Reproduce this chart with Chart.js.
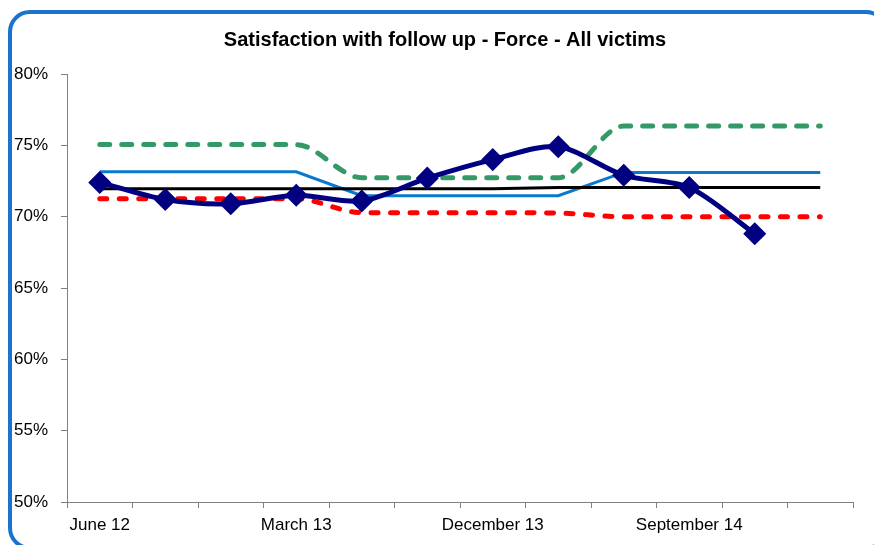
<!DOCTYPE html>
<html>
<head>
<meta charset="utf-8">
<script src="https://cdn.jsdelivr.net/npm/chart.js@4/dist/chart.umd.min.js"></script>
<style>
  html, body { margin: 0; padding: 0; background: #fff; overflow: hidden; }
  #wrap { position: relative; width: 874px; height: 545px; overflow: hidden; }
  #frame {
    position: absolute; left: 8px; top: 10px; width: 872px; height: 532px;
    border: 4px solid #1a74cc; border-radius: 22px;
  }
  canvas { position: absolute; left: 0; top: 0; }
</style>
</head>
<body>
<div id="wrap">
  <div id="frame"></div>
  <canvas id="chart" width="874" height="545"></canvas>
</div>
<script>
const quarters = ["June 12", "September 12", "December 12", "March 13", "June 13", "September 13",
                  "December 13", "March 14", "June 14", "September 14", "December 14", "March 15"];
const forceValues = [72.4, 71.2, 70.9, 71.5, 71.1, 72.7, 74.0, 74.9, 72.9, 72.05, 68.8, null];
const upperLimit = [75.05, 75.05, 75.05, 75.05, 72.73, 72.73, 72.73, 72.73, 76.35, 76.35, 76.35, 76.35];
const groupAverage = [73.15, 73.15, 73.15, 73.15, 71.47, 71.47, 71.47, 71.47, 73.1, 73.1, 73.1, 73.1];
const overallMean = [71.95, 71.95, 71.95, 71.95, 71.95, 71.95, 71.95, 72.05, 72.05, 72.05, 72.05, 72.05];
const lowerLimit = [71.25, 71.25, 71.25, 71.25, 70.28, 70.28, 70.28, 70.25, 70.0, 70.0, 70.0, 70.0];
const yTicks = [50, 55, 60, 65, 70, 75, 80];
const chartTitle = "Satisfaction with follow up - Force - All victims";

const fontFamily = "'Liberation Sans', Arial, sans-serif";

// title sits over the framed box, not over the canvas centre, so draw it by hand
const titlePlugin = {
    id: "boxTitle",
    afterDraw: function (chart) {
        const ctx = chart.ctx;
        ctx.save();
        ctx.font = "bold 20px " + fontFamily;
        ctx.fillStyle = "#000";
        ctx.textAlign = "center";
        ctx.textBaseline = "middle";
        ctx.fillText(chartTitle, 445, 40);
        ctx.restore();
    }
};

new Chart("chart", {
    type: "line",
    data: {
        labels: quarters,
        datasets: [{
            data: forceValues,
            borderColor: "#000080",
            backgroundColor: "#000080",
            borderWidth: 5,
            tension: 0.3,
            pointStyle: "rectRot",
            pointRadius: 8,
            pointHoverRadius: 8
        }, {
            data: overallMean,
            borderColor: "#000000",
            borderWidth: 3,
            pointRadius: 0,
            tension: 0
        }, {
            data: groupAverage,
            borderColor: "#0a78cc",
            borderWidth: 3,
            pointRadius: 0,
            tension: 0
        }, {
            data: upperLimit,
            borderColor: "#339966",
            borderWidth: 5,
            borderDash: [10, 12],
            borderCapStyle: "round",
            pointRadius: 0,
            cubicInterpolationMode: "monotone"
        }, {
            data: lowerLimit,
            borderColor: "#ff0000",
            borderWidth: 5,
            borderDash: [7, 12.5],
            borderCapStyle: "round",
            pointRadius: 0,
            cubicInterpolationMode: "monotone"
        }]
    },
    options: {
        responsive: false,
        animation: false,
        layout: { padding: { left: 0, right: 21, top: 74, bottom: 0 } },
        plugins: {
            legend: { display: false },
            tooltip: { enabled: false },
            title: { display: false }
        },
        scales: {
            x: {
                offset: true,
                grid: { offset: true, drawOnChartArea: false, drawTicks: true, tickLength: 6, color: "#808080" },
                border: { display: true, color: "#808080", width: 1 },
                ticks: {
                    autoSkip: false,
                    maxRotation: 0,
                    padding: 7,
                    color: "#000",
                    font: { family: fontFamily, size: 17 },
                    callback: function (v, i) { return i % 3 === 0 ? quarters[i] : ""; }
                },
                afterFit: function (s) { s.height = 43; }
            },
            y: {
                min: yTicks[0],
                max: yTicks[yTicks.length - 1],
                afterBuildTicks: function (s) { s.ticks = yTicks.map(v => ({ value: v })); },
                grid: { drawOnChartArea: false, drawTicks: true, tickLength: 6, color: "#808080" },
                border: { display: true, color: "#808080", width: 1 },
                ticks: {
                    padding: 13,
                    color: "#000",
                    font: { family: fontFamily, size: 17 },
                    callback: function (v) { return v + "%"; }
                },
                afterFit: function (s) { s.width = 67; }
            }
        }
    },
    plugins: [titlePlugin]
});
</script>
</body>
</html>
